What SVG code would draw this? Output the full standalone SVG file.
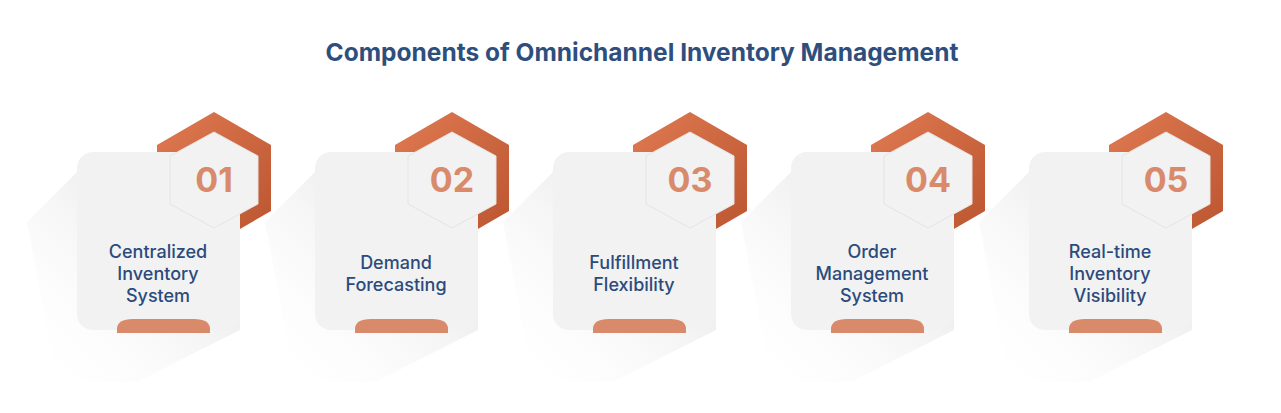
<svg xmlns="http://www.w3.org/2000/svg" width="1281" height="413" viewBox="0 0 1281 413">
<defs>
<linearGradient id="sh" x1="1" y1="0" x2="0" y2="1"><stop offset="0" stop-color="#d6d6d6" stop-opacity="0.9"/><stop offset="1" stop-color="#ffffff" stop-opacity="0"/></linearGradient>
<linearGradient id="hx" x1="0" y1="0" x2="1" y2="1"><stop offset="0" stop-color="#e07a52"/><stop offset="1" stop-color="#b9542f"/></linearGradient>
<polygon id="shadow" points="0,20 -50,70 -20,230 60,230 163,178 163,60" fill="url(#sh)"/>
<g id="card">
<polygon points="80,-7 137,-40 194,-7 194,59 137,92 80,59" fill="url(#hx)"/>
<rect x="0" y="0" width="163" height="178" rx="16" fill="#f2f2f2"/>
<polygon points="137,-20 181,4 181,52 137,76 93,52 93,4" fill="#f2f2f2" stroke="#e4e4e4"/>
<path d="M40,181 L40,177 Q40,167 56,167 L117,167 Q133,167 133,177 L133,181 Z" fill="#d98a6a"/>
</g>
<style>
.n{font-family:Inter,"Liberation Sans",sans-serif;font-weight:700;font-size:34px;fill:#d98a6a;text-anchor:middle}
.l{font-family:Inter,"Liberation Sans",sans-serif;font-weight:500;font-size:18px;fill:#2b4b7c;text-anchor:middle}
</style>
</defs>
<rect width="1281" height="413" fill="#fff"/>
<text x="642" y="61" font-family="Inter,'Liberation Sans',sans-serif" font-weight="700" font-size="24.5" fill="#2e4f7e" text-anchor="middle">Components of Omnichannel Inventory Management</text>
<use href="#shadow" x="77" y="152"/><use href="#shadow" x="315" y="152"/><use href="#shadow" x="553" y="152"/><use href="#shadow" x="791" y="152"/><use href="#shadow" x="1029" y="152"/>
<g id="node1"><use href="#card" x="77" y="152"/><text class="n" x="214" y="192">01</text><text class="l" x="158" y="258">Centralized</text><text class="l" x="158" y="280">Inventory</text><text class="l" x="158" y="302">System</text></g>
<g id="node2"><use href="#card" x="315" y="152"/><text class="n" x="452" y="192">02</text><text class="l" x="396" y="269">Demand</text><text class="l" x="396" y="291">Forecasting</text></g>
<g id="node3"><use href="#card" x="553" y="152"/><text class="n" x="690" y="192">03</text><text class="l" x="634" y="269">Fulfillment</text><text class="l" x="634" y="291">Flexibility</text></g>
<g id="node4"><use href="#card" x="791" y="152"/><text class="n" x="928" y="192">04</text><text class="l" x="872" y="258">Order</text><text class="l" x="872" y="280">Management</text><text class="l" x="872" y="302">System</text></g>
<g id="node5"><use href="#card" x="1029" y="152"/><text class="n" x="1166" y="192">05</text><text class="l" x="1110" y="258">Real-time</text><text class="l" x="1110" y="280">Inventory</text><text class="l" x="1110" y="302">Visibility</text></g>
<g id="connectors"/>
</svg>
